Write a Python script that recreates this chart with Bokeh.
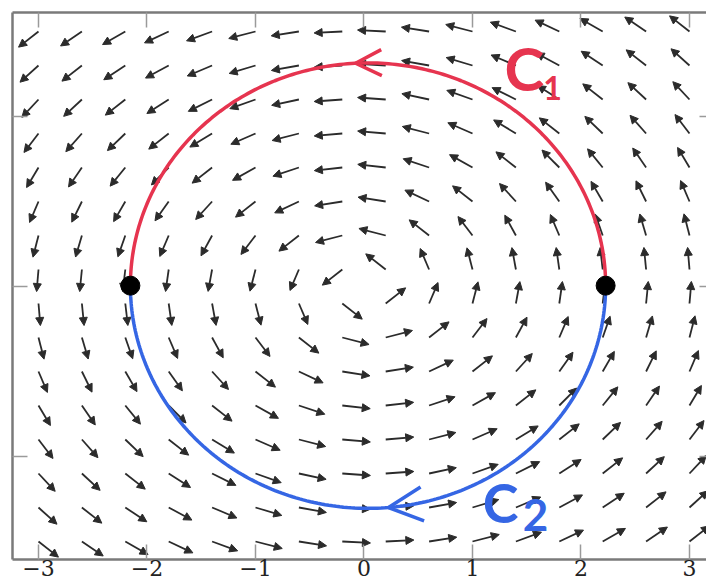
import numpy as np
from bokeh.plotting import figure
from bokeh.models import (Range1d, LinearAxis, FixedTicker, ColumnDataSource,
                          Arrow, NormalHead, OpenHead)
from bokeh.core.properties import value
from bokeh.embed import file_html
from bokeh.resources import INLINE

# ---- data ----
grid_x = [-3.0, -2.6, -2.2, -1.8, -1.4, -1.0, -0.6, -0.2, 0.2, 0.6, 1.0, 1.4, 1.8, 2.2, 2.6, 3.0]
grid_y = [-3.0, -2.6, -2.2, -1.8, -1.4, -1.0, -0.6, -0.2, 0.2, 0.6, 1.0, 1.4, 1.8, 2.2, 2.6, 3.0]
arrow_length = 0.26           # normalised quiver length (data units)
x_ticks = [-3, -2, -1, 0, 1, 2, 3]
x_tick_labels = ["\u22123", "\u22122", "\u22121", "0", "1", "2", "3"]
y_ticks = [-2, 0, 2]
curve_center = (0.037, 0.01)
curve_rx = 2.19
curve_ry = 2.62
curve_labels = ["C", "1", "C", "2"]

RED = "#e6344f"
BLUE = "#3566e4"
AX = (-3.235, 3.235)
AY = (-3.21, 3.22)

p = figure(width=706, height=587, x_range=Range1d(-3.3502, 3.1567),
           y_range=Range1d(-3.5412, 3.3647), output_backend="svg",
           toolbar_location=None, min_border=0,
           x_axis_location=None, y_axis_location=None)
p.outline_line_color = None
p.grid.visible = False
p.background_fill_color = "white"
p.border_fill_color = "white"

# ---- vector field F = (-y, x), normalised ----
x0, y0, x1, y1 = [], [], [], []
for yy in grid_y:
    for xx in grid_x:
        u, v = -yy, xx
        r = np.hypot(u, v)
        x0.append(xx); y0.append(yy)
        x1.append(xx + arrow_length * u / r)
        y1.append(yy + arrow_length * v / r)
src = ColumnDataSource(dict(x0=x0, y0=y0, x1=x1, y1=y1))
field = Arrow(x_start="x0", y_start="y0", x_end="x1", y_end="y1", source=src,
              line_color="#2b2b2b", line_width=1.8, level="underlay",
              end=NormalHead(size=8, fill_color="#2b2b2b", line_color="#2b2b2b", line_width=1))
p.add_layout(field)

# ---- axes (box style) ----
def make_axis(loc, fixed, ticks, bounds, labels=None):
    ax = LinearAxis(ticker=FixedTicker(ticks=ticks), fixed_location=fixed, bounds=bounds)
    ax.axis_line_color = "#7a7a7a"
    ax.axis_line_width = 2.5
    ax.major_tick_line_color = "#9a9a9a"
    ax.major_tick_line_width = 1.5
    ax.major_tick_in = 15
    ax.major_tick_out = 0
    ax.minor_tick_line_color = None
    if labels is None:
        ax.major_label_text_font_size = "0px"
        ax.major_label_overrides = {t: "" for t in ticks}
    else:
        ax.major_label_overrides = {t: l for t, l in zip(ticks, labels)}
        ax.major_label_text_font = "DejaVu Serif"
        ax.major_label_text_font_size = "22px"
        ax.major_label_text_color = "#222222"
        ax.major_label_standoff = 1
    p.add_layout(ax, loc)
    return ax

make_axis("below", AY[0], x_ticks, AX, x_tick_labels)
make_axis("above", AY[1], x_ticks, AX)
make_axis("left", AX[0], y_ticks, AY)
make_axis("right", AX[1], y_ticks, AY)

# ---- the two paths C1 (upper, red) and C2 (lower, blue) ----
cx, cy = curve_center
t_up = np.linspace(0, np.pi, 200)
t_lo = np.linspace(np.pi, 2 * np.pi, 200)
p.line(cx + curve_rx * np.cos(t_up), cy + curve_ry * np.sin(t_up), line_color=RED, line_width=3.5)
p.line(cx + curve_rx * np.cos(t_lo), cy + curve_ry * np.sin(t_lo), line_color=BLUE, line_width=3.5)

def pt(t):
    return cx + curve_rx * np.cos(t), cy + curve_ry * np.sin(t)

# direction chevrons
tr = np.pi / 2 + 0.0525
xs, ys = pt(tr - 0.05); xe, ye = pt(tr)
p.add_layout(Arrow(x_start=xs, y_start=ys, x_end=xe, y_end=ye, line_alpha=0, line_width=0,
                   end=OpenHead(size=26, line_color=RED, line_width=3.5)))
tb = 1.5 * np.pi + 0.0864
xs, ys = pt(tb + 0.05); xe, ye = pt(tb)
p.add_layout(Arrow(x_start=xs, y_start=ys, x_end=xe, y_end=ye, line_alpha=0, line_width=0,
                   end=OpenHead(size=34, line_color=BLUE, line_width=3.5)))

# endpoints
ex, ey = zip(pt(0.0), pt(np.pi))
p.scatter(list(ex), list(ey), size=19, color="black")

# hand-written labels
p.text(x=[1.479], y=[2.565], text=[curve_labels[0]], text_font=value("Lato"), text_font_style="bold",
       text_font_size="60px", text_color=RED, text_align="center", text_baseline="middle")
p.text(x=[1.737], y=[2.33], text=[curve_labels[1]], text_font=value("Lato"), text_font_style="bold",
       text_font_size="32px", text_color=RED, text_align="center", text_baseline="middle")
p.text(x=[1.258], y=[-2.541], text=[curve_labels[2]], text_font=value("Lato"), text_font_style="bold",
       text_font_size="54px", text_color=BLUE, text_align="center", text_baseline="middle")
p.text(x=[1.581], y=[-2.694], text=[curve_labels[3]], text_font=value("Lato"), text_font_style="bold",
       text_font_size="44px", text_color=BLUE, text_align="center", text_baseline="middle")

open("out.html", "w").write(file_html(p, INLINE))
